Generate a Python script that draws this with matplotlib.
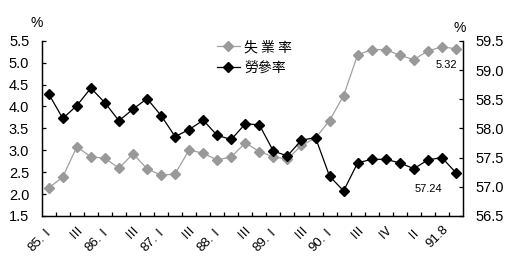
import numpy as np
import matplotlib
matplotlib.use('Agg')
import matplotlib.pyplot as plt

plt.rcParams['font.family'] = ['Liberation Sans', 'Noto Sans CJK TC', 'DejaVu Sans']

# quarterly periods, label every other one
labels = ['85.Ⅰ', 'Ⅲ', '86.Ⅰ', 'Ⅲ', '87.Ⅰ', 'Ⅲ', '88.Ⅰ', 'Ⅲ',
          '89.Ⅰ', 'Ⅲ', '90.Ⅰ', 'Ⅲ', 'Ⅳ', 'Ⅱ', '91.8']

unemp = [2.14, 2.39, 3.08, 2.85, 2.82, 2.59, 2.92, 2.58, 2.43, 2.46,
         3.01, 2.93, 2.78, 2.85, 3.17, 2.97, 2.85, 2.80, 3.11, 3.28,
         3.68, 4.25, 5.18, 5.30, 5.30, 5.17, 5.07, 5.27, 5.36, 5.32]

lfpr = [58.59, 58.17, 58.39, 58.69, 58.44, 58.13, 58.33, 58.51, 58.22, 57.86,
        57.98, 58.14, 57.88, 57.81, 58.08, 58.06, 57.61, 57.53, 57.80, 57.84,
        57.18, 56.93, 57.41, 57.47, 57.47, 57.41, 57.31, 57.46, 57.50, 57.24]

x = np.arange(len(unemp))

fig = plt.figure(figsize=(5.1, 2.65), dpi=100)
ax = fig.add_axes([0.0818, 0.185, 0.8260, 0.661])
ax2 = ax.twinx()

l1, = ax.plot(x, unemp, '-', color='#a0a0a0', lw=0.9, marker='D', ms=5.2,
              mfc='#999999', mec='#999999', label='失 業 率')
l2, = ax2.plot(x, lfpr, '-', color='black', lw=0.9, marker='D', ms=5.2,
               mfc='black', mec='black', label='勞參率')

ax.set_xlim(-0.5, len(x) - 0.5)
ax.set_ylim(1.5, 5.5)
ax2.set_ylim(56.5, 59.5)
ax.set_yticks(np.arange(1.5, 5.51, 0.5))
ax2.set_yticks(np.arange(56.5, 59.51, 0.5))
ax.set_yticklabels([f'{v:.1f}' for v in np.arange(1.5, 5.51, 0.5)])
ax2.set_yticklabels([f'{v:.1f}' for v in np.arange(56.5, 59.51, 0.5)])

# boundary ticks, labels on every other category
ax.set_xticks(np.arange(0.5, len(x) - 1, 1.0))
ax.set_xticklabels([])
ax.set_xticks(x[::2], labels, minor=True)
ax.tick_params(axis='x', which='minor', length=0, pad=5, labelsize=9.5)
for t in ax.get_xticklabels(minor=True):
    t.set_rotation(45)
    t.set_ha('right')
    t.set_rotation_mode('anchor')

ax.tick_params(axis='both', which='major', direction='in', length=3, width=0.9,
               labelsize=10.5, color='black')
ax.tick_params(axis='y', pad=9)
ax2.tick_params(axis='y', direction='in', length=3, width=0.9, labelsize=10.5, pad=9)

for a in (ax, ax2):
    a.spines['top'].set_visible(False)
    for s in ('left', 'right', 'bottom'):
        a.spines[s].set_linewidth(0.9)

fig.text(0.072, 0.915, '%', fontsize=10, ha='center', va='center')
fig.text(0.902, 0.893, '%', fontsize=10, ha='center', va='center')

ax.annotate(f'{unemp[-1]:.2f}', xy=(x[-1], unemp[-1]), xytext=(1, -12),
            textcoords='offset points', ha='right', va='center', fontsize=8)
ax2.annotate(f'{lfpr[-1]:.2f}', xy=(x[-1], lfpr[-1]), xytext=(-10, -11.5),
             textcoords='offset points', ha='right', va='center', fontsize=8)

leg = fig.legend(handles=[l1, l2], loc='upper left', bbox_to_anchor=(0.40, 0.895),
                 frameon=False, handlelength=1.7, handletextpad=0.3,
                 labelspacing=0.45, prop={'family': ['Noto Sans CJK TC'], 'size': 10})

fig.savefig('out.png', dpi=100)
